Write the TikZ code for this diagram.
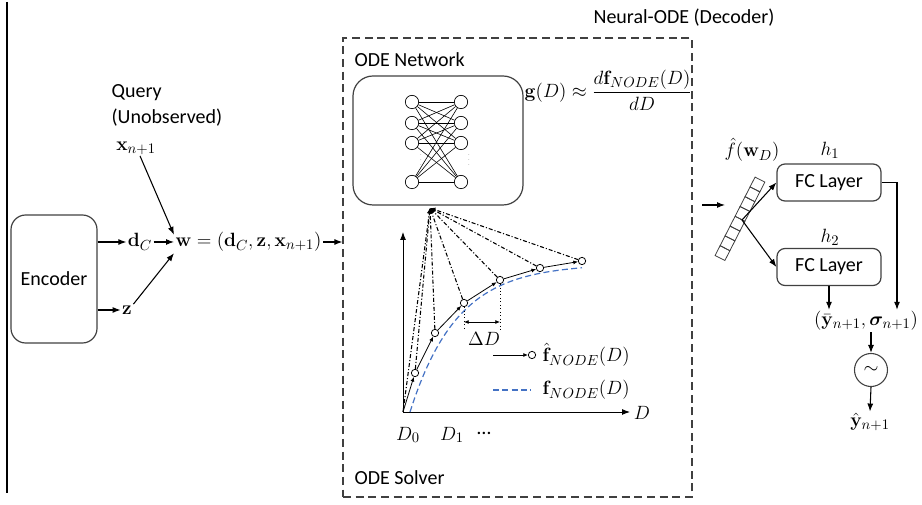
\documentclass[tikz,border=0pt]{standalone}
\usepackage{amsmath,bm}
\usepackage[no-math]{fontspec}
\newfontfamily\calib{Carlito}
\usetikzlibrary{arrows.meta,calc}
\definecolor{edge}{RGB}{64,64,64}
\definecolor{curveblue}{RGB}{68,114,196}
\begin{document}
\begin{tikzpicture}[x=0.75pt,y=-0.75pt,
  lbl/.style={font=\calib\fontsize{15}{18}\selectfont, inner sep=1pt},
  mth/.style={font=\fontsize{15.5}{18}\selectfont, inner sep=1pt},
  rbox/.style={draw=edge, line width=0.9pt, rounded corners=11pt, inner sep=0pt},
  arr/.style={-{Latex[length=6pt,width=4.5pt]}, line width=0.8pt},
  sarr/.style={-{Latex[length=3.5pt,width=3pt]}, line width=0.6pt},
  dashdot/.style={line width=0.8pt, dash pattern=on 3pt off 1.5pt on 0.8pt off 1.5pt},
  pt/.style={circle, draw, fill=white, line width=0.6pt, inner sep=0pt, minimum size=5.5pt},
  neuron/.style={circle, draw, line width=0.5pt, inner sep=0pt, minimum size=10pt}]
\useasboundingbox (0,0) rectangle (922,505);

% left rule
\draw[line width=1.1pt] (7,2) -- (7,493);

% encoder and its outputs
\node[rbox, minimum width=64.5pt, minimum height=96pt, lbl] (enc) at (54,279) {Encoder};
\node[mth] (dC) at (140,242) {$\mathbf{d}_C$};
\node[mth] (z) at (127,310) {$\mathbf{z}$};
\node[mth, anchor=west] (w) at (174,242) {$\mathbf{w} = (\mathbf{d}_C,\mathbf{z},\mathbf{x}_{n+1})$};
\node[mth] (xq) at (136,148) {$\mathbf{x}_{n+1}$};
\node[lbl, anchor=west] (q1) at (110,93) {Query};
\node[lbl, anchor=west] (q2) at (110,118) {(Unobserved)};

\draw[arr] (enc.east |- dC.west) -- (dC.west);
\draw[arr] (enc.east |- z.west) -- (z.west);
\draw[arr] (dC.east) -- (w.west);
\draw[arr] (z.north east) -- (w.south west);
\draw[arr] ($(xq.south)+(4,0)$) -- ($(w.north west)+(0,4)$);

% decoder frame
\node[draw=edge, line width=0.9pt, dash pattern=on 6pt off 3.5pt, minimum width=261.75pt, minimum height=344.25pt, inner sep=0pt] (dec) at (517.5,267.5) {};
\node[lbl, anchor=west] (dectitle) at (592,18) {Neural-ODE (Decoder)};
\draw[arr] (w.east) -- (w.east -| dec.west);

% ODE network
\node[lbl, anchor=west] (odenet) at (353,60) {ODE Network};
\node[rbox, rounded corners=15pt, minimum width=127.5pt, minimum height=96.75pt] (net) at (438,140.5) {};
\foreach \i/\y in {1/102,2/123,3/143,4/182} {
  \node[neuron] (L\i) at (412,\y) {};
  \node[neuron] (R\i) at (461,\y) {};
}
\foreach \i in {1,...,4} \foreach \j in {1,...,4} \draw[line width=0.45pt] (L\i) -- (R\j);
\node[inner sep=0pt, font=\tiny, text=black!60] (dl) at (421,156) {$\vdots$};
\node[inner sep=0pt, font=\tiny, text=black!60] (dr) at (469,156) {$\vdots$};
\node[mth, anchor=west] (geq) at (523,90) {$\mathbf{g}(D) \approx \dfrac{d\mathbf{f}_{NODE}(D)}{dD}$};

% solver plot
\coordinate (O) at (403,412);
\coordinate (apex) at (430,208);
\draw[arr, line width=0.7pt] (O) -- (403,232);
\draw[arr, line width=0.7pt] (O) -- (630,412);
\node[mth] (Dlab) at (642,413) {$D$};
\node[mth] (D0) at (408,435) {$D_0$};
\node[mth] (D1) at (452,435) {$D_1$};
\node[lbl] (dots) at (484,433) {…};

\draw[curveblue, line width=0.9pt, dash pattern=on 4.5pt off 2.5pt]
  plot[domain=0:172, samples=60, smooth] ({410+\x},{412-148*(1-exp(-\x/47))});

\foreach \n/\p in {1/{415,373},2/{435,333},3/{464,303},4/{500,280},5/{540,268},6/{582,261}}
  \node[pt] (c\n) at (\p) {};
\draw[sarr] (O) -- (c1);
\draw[sarr] (c1) -- (c2);
\draw[sarr] (c2) -- (c3);
\draw[sarr] (c3) -- (c4);
\draw[sarr] (c4) -- (c5);
\draw[sarr] (c5) -- (c6);

\foreach \s in {O,c1,c2,c3,c4,c5,c6}
  \draw[dashdot, -{Latex[length=4pt,width=3.5pt]}] (\s) -- (apex);

% step size
\draw[dotted, line width=0.6pt] (c3) -- (464,330);
\draw[dotted, line width=0.6pt] (c4) -- (500,330);
\coordinate (sl) at (464,322);
\coordinate (sr) at (500,322);
\draw[{Latex[length=3.5pt,width=3pt]}-{Latex[length=3.5pt,width=3pt]}, line width=0.6pt] (sl) -- (sr);
\node[mth] (dD) at (484,339) {$\Delta D$};

% legend
\coordinate (lga) at (493,355);
\node[pt] (lgc) at (532,355) {};
\draw[sarr] (lga) -- (lgc);
\node[mth, anchor=west] (lgt1) at (541,355) {$\hat{\mathbf{f}}_{NODE}(D)$};
\coordinate (lgb) at (493,390);
\coordinate (lgd) at (531,390);
\draw[curveblue, line width=0.9pt, dash pattern=on 4.5pt off 2.5pt] (lgb) -- (lgd);
\node[mth, anchor=west] (lgt2) at (541,390) {$\mathbf{f}_{NODE}(D)$};

\node[lbl, anchor=west] (solver) at (353,478) {ODE Solver};

% output heads
\coordinate (vin) at (702,205);
\coordinate (vend) at (725,205);
\draw[arr] (vin) -- (vend);
\begin{scope}[shift={(720,258)}, rotate=63]
  \foreach \i in {0,...,7}
    \draw[line width=0.6pt, draw=edge] (\i*11,-5.5) rectangle ++(11,11);
\end{scope}
\coordinate (vmid) at (742,220);
\node[mth] (fw) at (752,150) {$\hat{f}(\mathbf{w}_D)$};

\node[rbox, rounded corners=6pt, minimum width=78pt, minimum height=27.75pt, lbl] (fc1) at (829,182.5) {FC Layer};
\node[rbox, rounded corners=6pt, minimum width=78pt, minimum height=27.75pt, lbl] (fc2) at (829,267) {FC Layer};
\node[mth] (h1) at (830,150) {$h_1$};
\node[mth] (h2) at (830,237) {$h_2$};
\draw[arr] (vmid) -- (fc1.west);
\draw[arr] (vmid) -- (fc2.west);

\node[mth] (out) at (866,321) {$(\bar{\mathbf{y}}_{n+1},\bm{\sigma}_{n+1})$};
\coordinate (sigx) at (897,0);
\draw[arr] (fc1.east) -| (sigx |- out.north);
\draw[arr] (fc2.south) -- (fc2.south |- out.north);

\node[circle, draw=edge, line width=0.8pt, minimum size=24.75pt, inner sep=0pt, mth] (smp) at (871,370) {$\sim$};
\draw[arr] (out.south -| smp) -- (smp.north);
\node[mth] (yhat) at (870,422) {$\hat{\mathbf{y}}_{n+1}$};
\draw[arr] (smp.south) -- (yhat.north);
\end{tikzpicture}
\end{document}
